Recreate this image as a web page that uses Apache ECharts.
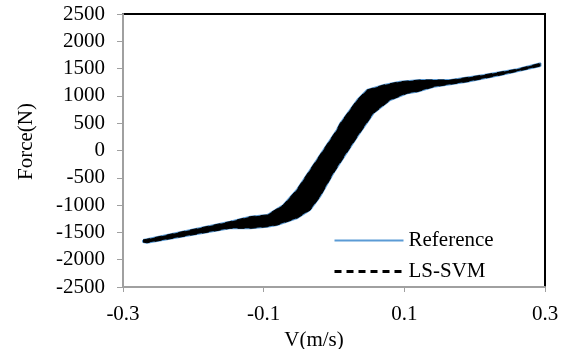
<!DOCTYPE html>
<html>
<head>
<meta charset="utf-8">
<script src="https://cdn.jsdelivr.net/npm/echarts/dist/echarts.min.js"></script>
<style>
  html, body { margin: 0; padding: 0; background: #fff; }
  #chart { width: 571px; height: 349px; }
</style>
</head>
<body>
<div id="chart"></div>
<script>
// upper branch of the loop (left to right)
var upperV = [-0.2715, -0.266, -0.148, -0.119, -0.095, -0.091, -0.072, -0.053, -0.034, -0.015, 0.004, 0.009, 0.033, 0.047, 0.071, 0.094, 0.123, 0.166, 0.213, 0.260, 0.2936]
var upperF = [-1639, -1626, -1304, -1212, -1181, -1150, -998, -723, -357, 9, 375, 498, 925, 1108, 1200, 1260, 1291, 1291, 1383, 1487, 1597]
// lower branch of the loop (left to right)
var lowerV = [-0.2715, -0.266, -0.148, -0.119, -0.095, -0.081, -0.053, -0.034, -0.020, -0.001, 0.016, 0.033, 0.056, 0.080, 0.104, 0.118, 0.142, 0.189, 0.237, 0.2936]
var lowerF = [-1676, -1689, -1425, -1425, -1396, -1364, -1242, -1090, -846, -418, -80, 253, 681, 925, 1048, 1077, 1168, 1260, 1383, 1548]

var xTicks = [-0.3, -0.1, 0.1, 0.3]
var yTicks = [-2500, -2000, -1500, -1000, -500, 0, 500, 1000, 1500, 2000, 2500]

var font = 'Liberation Serif'

// closed loop: upper branch then lower branch back
var loop = []
upperV.forEach(function (v, i) { loop.push([v, upperF[i]]) })
for (var i = lowerV.length - 1; i >= 0; i--) loop.push([lowerV[i], lowerF[i]])
loop.push(loop[0])

var chart = echarts.init(document.getElementById('chart'))

var option = {
  animation: false,
  grid: {
    left: 123, right: 26, top: 14, bottom: 62,
    outerBoundsMode: 'none', containLabel: false,
    show: true, borderColor: '#000', borderWidth: 2
  },
  legend: {
    data: [
      { name: 'Reference', lineStyle: { width: 2 }, itemStyle: { opacity: 0 } },
      { name: 'LS-SVM', lineStyle: { width: 3, type: [7, 5] }, itemStyle: { opacity: 0 } }
    ],
    orient: 'vertical',
    left: 328, top: 225,
    itemWidth: 69, itemHeight: 14, itemGap: 10,
    textStyle: { fontFamily: font, fontSize: 21, color: '#000' }
  },
  xAxis: {
    type: 'value',
    min: xTicks[0], max: xTicks[xTicks.length - 1], interval: 0.2,
    name: 'V(m/s)', nameLocation: 'middle', nameGap: 43, nameMoveOverlap: false,
    nameTextStyle: { fontFamily: font, fontSize: 21, color: '#000', padding: [0, 40, 0, 0] },
    axisLine: { onZero: false, lineStyle: { color: '#a0a0a0', width: 2 } },
    axisTick: { show: true, length: 5, lineStyle: { color: '#a0a0a0' } },
    axisLabel: {
      fontFamily: font, fontSize: 21, color: '#000', margin: 17,
      formatter: function (v) { return v.toFixed(1) }
    },
    splitLine: { show: false }
  },
  yAxis: {
    type: 'value',
    min: yTicks[0], max: yTicks[yTicks.length - 1], interval: 500,
    name: 'Force(N)', nameLocation: 'middle', nameGap: 86,
    nameTextStyle: { fontFamily: font, fontSize: 21, color: '#000', padding: [0, 0, 0, 18] },
    axisLine: { show: true, onZero: false, lineStyle: { color: '#a0a0a0', width: 2 } },
    axisTick: { show: true, length: 6, lineStyle: { color: '#a0a0a0' } },
    axisLabel: {
      fontFamily: font, fontSize: 21, color: '#000', margin: 18,
      formatter: function (v) { return String(v) }
    },
    splitLine: { show: false }
  },
  series: [
    {
      name: 'Reference', type: 'line', data: loop,
      symbol: 'none', z: 2,
      lineStyle: { color: '#5b9bd5', width: 2 },
      itemStyle: { color: '#5b9bd5' }
    },
    {
      name: 'LS-SVM fill', type: 'custom', data: loop, z: 3,
      renderItem: function (params, api) {
        if (params.dataIndex !== 0) return null
        var pts = loop.map(function (p) { return api.coord(p) })
        return { type: 'polygon', shape: { points: pts }, style: { fill: '#000' } }
      }
    },
    {
      name: 'LS-SVM', type: 'line', data: loop,
      symbol: 'none', z: 4,
      lineStyle: { color: '#000', width: 1, type: [7, 5] },
      itemStyle: { color: '#000' }
    }
  ]
}

chart.setOption(option)
</script>
</body>
</html>
